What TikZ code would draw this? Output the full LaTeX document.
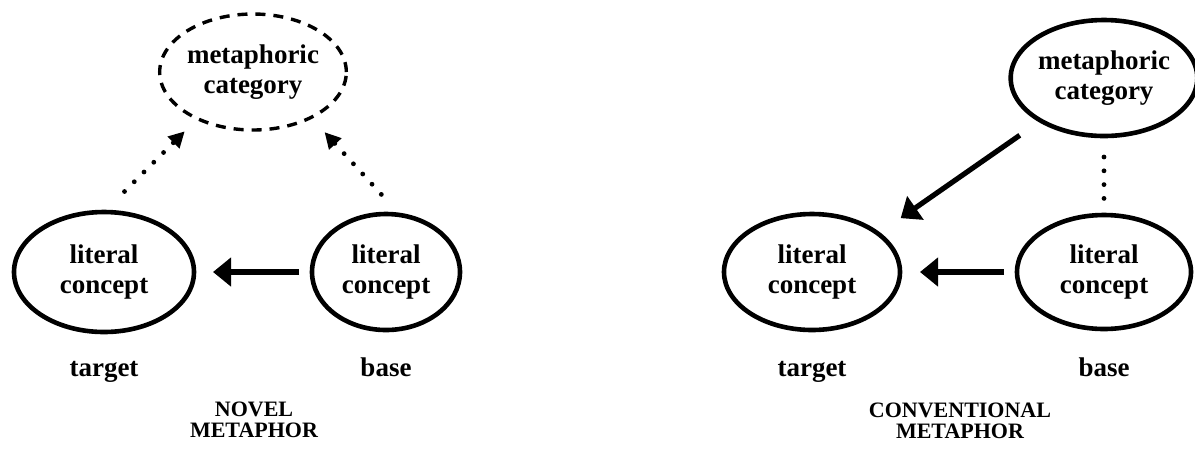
\documentclass[tikz,border=0pt]{standalone}
\usepackage{fontspec}
\setmainfont{Liberation Serif}
\usetikzlibrary{positioning,shapes.geometric,arrows.meta}

\begin{document}
\begin{tikzpicture}
[x=0.5pt,y=-0.5pt,
 every node/.style={inner sep=0pt,outer sep=0pt,align=center,font=\bfseries\fontsize{13.5}{15}\selectfont},
 concept/.style={ellipse,draw=black,line width=2.3pt},
 vague/.style={ellipse,draw=black,line width=1.7pt,dash pattern=on 5pt off 4pt},
 title/.style={font=\bfseries\fontsize{11}{10.5}\selectfont},
 link/.style={-{Triangle[length=9pt,width=14pt]},line width=2.6pt},
 hint/.style={line width=2.4pt,line cap=round,dash pattern=on 0pt off 6.9pt},
 hintarrow/.style={hint,-{Triangle[length=8pt,width=8pt]}}]

\useasboundingbox (0,0) rectangle (1195,452);

% novel
\node[concept,minimum width=90pt,minimum height=60pt] (Ntgt) at (104,272) {literal\\concept};
\node[concept,minimum width=74pt,minimum height=58pt] (Nbase) [on grid,right=141pt of Ntgt] {literal\\concept};
\node[vague,minimum width=88pt,minimum height=58pt] (Nmet) [on grid,above right=100pt and 74.5pt of Ntgt] {metaphoric\\category};
\node (NtgtL)  [on grid,below=52pt of Ntgt,anchor=base]  {target};
\node (NbaseL) [on grid,below=52pt of Nbase,anchor=base] {base};
\node[title] (Nname) [on grid,below right=74pt and 75pt of Ntgt] {NOVEL\\METAPHOR};
\path[link]      (Nbase) edge[shorten <=6.5pt,shorten >=9.5pt] (Ntgt);
\path[hintarrow] (Ntgt.north) edge[shorten <=14.5pt,shorten >=9pt] (Nmet.220);
\path[hintarrow] (Nbase.76)   edge[shorten <=14pt,shorten >=10pt] (Nmet.322);

% conventional
\node[concept,minimum width=88pt,minimum height=58pt] (Ctgt) [on grid,right=213pt of Nbase] {literal\\concept};
\node[concept,minimum width=87pt,minimum height=57pt] (Cbase) [on grid,right=146pt of Ctgt] {literal\\concept};
\node[concept,minimum width=87pt,minimum height=58pt] (Cmet) [on grid,above=97pt of Cbase] {metaphoric\\category};
\node (CtgtL)  [on grid,below=52pt of Ctgt,anchor=base]  {target};
\node (CbaseL) [on grid,below=52pt of Cbase,anchor=base] {base};
\node[title] (Cname) [on grid,below right=74.5pt and 74pt of Ctgt] {CONVENTIONAL\\METAPHOR};
\path[link] (Cbase)    edge[shorten <=6.5pt,shorten >=10pt] (Ctgt);
\path[link] (Cmet.214) edge[shorten <=12.8pt,shorten >=13.7pt] (Ctgt.30);
\path[hint] (Cmet.south) edge[shorten <=10.5pt,shorten >=7.5pt] (Cbase.north);

\end{tikzpicture}
\end{document}
